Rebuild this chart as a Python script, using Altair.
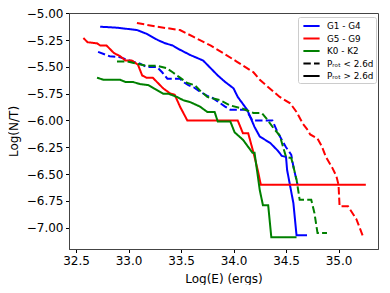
import altair as alt
import pandas as pd

# ---- data ----
g14_fast_x = [32.71, 32.82, 32.92, 33.01, 33.11, 33.17, 33.27, 33.32, 33.37, 33.49, 33.52, 33.57, 33.62, 33.68, 33.75, 33.80, 33.92, 33.97, 34.12, 34.18, 34.37, 34.42, 34.50, 34.55, 34.57, 34.61]
g14_fast_y = [-5.36, -5.40, -5.41, -5.44, -5.47, -5.50, -5.50, -5.55, -5.61, -5.61, -5.64, -5.67, -5.69, -5.73, -5.77, -5.79, -5.87, -5.90, -5.90, -6.00, -6.00, -6.11, -6.25, -6.32, -6.43, -6.60]

g14_slow_x = [32.73, 32.89, 33.08, 33.17, 33.28, 33.35, 33.42, 33.49, 33.59, 33.71, 33.78, 33.85, 33.92, 34.00, 34.04, 34.13, 34.20, 34.25, 34.35, 34.42, 34.46, 34.50, 34.51, 34.57, 34.60, 34.70]
g14_slow_y = [-5.125, -5.134, -5.156, -5.19, -5.25, -5.28, -5.30, -5.34, -5.39, -5.44, -5.51, -5.58, -5.64, -5.70, -5.78, -5.90, -6.06, -6.15, -6.21, -6.28, -6.33, -6.34, -6.46, -6.77, -7.07, -7.07]

g59_fast_x = [33.08, 33.27, 33.49, 33.62, 33.68, 33.78, 33.90, 34.03, 34.19, 34.25, 34.32, 34.44, 34.54, 34.60, 34.66, 34.70, 34.73, 34.80, 34.84, 34.88, 34.94, 34.98, 35.00, 35.01, 35.09, 35.17, 35.24]
g59_fast_y = [-5.09, -5.125, -5.156, -5.22, -5.25, -5.30, -5.37, -5.45, -5.55, -5.62, -5.68, -5.78, -5.84, -5.92, -6.03, -6.08, -6.13, -6.17, -6.24, -6.34, -6.44, -6.52, -6.60, -6.80, -6.80, -6.92, -7.10]

g59_slow_x = [32.57, 32.61, 32.70, 32.73, 32.79, 32.86, 32.92, 32.97, 33.03, 33.09, 33.13, 33.17, 33.23, 33.33, 33.40, 33.44, 33.49, 33.56, 34.04, 34.09, 34.14, 34.19, 34.23, 34.26, 35.26]
g59_slow_y = [-5.23, -5.27, -5.28, -5.30, -5.30, -5.37, -5.40, -5.44, -5.44, -5.48, -5.58, -5.60, -5.60, -5.70, -5.75, -5.76, -5.87, -6.00, -6.00, -6.12, -6.12, -6.30, -6.46, -6.60, -6.60]

k02_fast_x = [32.89, 32.99, 33.08, 33.17, 33.27, 33.36, 33.42, 33.49, 33.56, 33.63, 33.68, 33.75, 33.87, 33.97, 34.09, 34.19, 34.27, 34.32, 34.38, 34.44, 34.50, 34.55, 34.60, 34.63, 34.74, 34.77, 34.80, 34.89]
k02_fast_y = [-5.45, -5.45, -5.47, -5.49, -5.49, -5.51, -5.55, -5.60, -5.65, -5.67, -5.72, -5.78, -5.81, -5.86, -5.89, -5.93, -5.93, -5.99, -6.07, -6.14, -6.34, -6.35, -6.55, -6.74, -6.74, -6.86, -7.05, -7.05]

k02_slow_x = [32.70, 32.76, 32.92, 32.97, 33.04, 33.11, 33.19, 33.24, 33.33, 33.38, 33.46, 33.52, 33.59, 33.68, 33.75, 33.82, 33.85, 33.97, 34.01, 34.09, 34.18, 34.20, 34.25, 34.28, 34.33, 34.36, 34.60]
k02_slow_y = [-5.60, -5.62, -5.62, -5.64, -5.64, -5.66, -5.67, -5.70, -5.75, -5.75, -5.78, -5.81, -5.83, -5.87, -5.92, -5.92, -6.01, -6.01, -6.11, -6.18, -6.30, -6.30, -6.65, -6.79, -6.79, -7.09, -7.09]

groups = ["G1 - G4", "G5 - G9", "K0 - K2"]
group_colors = ["#0000ff", "#ff0000", "#008000"]
periods = ["fast", "slow"]
fast_label = "P\u1d63\u2092\u209c < 2.6d"
slow_label = "P\u1d63\u2092\u209c > 2.6d"

x_ticks = [32.5, 33.0, 33.5, 34.0, 34.5, 35.0]
y_ticks = [-5.0, -5.25, -5.5, -5.75, -6.0, -6.25, -6.5, -6.75, -7.0]

series = [
    ("G1 - G4", "fast", g14_fast_x, g14_fast_y),
    ("G1 - G4", "slow", g14_slow_x, g14_slow_y),
    ("G5 - G9", "fast", g59_fast_x, g59_fast_y),
    ("G5 - G9", "slow", g59_slow_x, g59_slow_y),
    ("K0 - K2", "fast", k02_fast_x, k02_fast_y),
    ("K0 - K2", "slow", k02_slow_x, k02_slow_y),
]
rows = []
for g, p, xs, ys in series:
    for i, (xv, yv) in enumerate(zip(xs, ys)):
        rows.append({"x": xv, "y": yv, "group": g, "period": p, "i": i})
df = pd.DataFrame(rows)

leg_domain = groups + [fast_label, slow_label]
leg_df = pd.DataFrame({"leg": leg_domain, "x": [33.0] * 5, "y": [-6.5] * 5})

DASH = [7.4, 3.2]
SOLID = [1, 0]
FONT = "DejaVu Sans"

xscale = alt.Scale(domain=[32.433, 35.376], nice=False, zero=False)
yscale = alt.Scale(domain=[-7.199, -4.997], nice=False, zero=False)

xaxis = alt.Axis(values=x_ticks, format=".1f", title="Log(E) (ergs)", grid=False,
                 titlePadding=7, labelOverlap=False)
yaxis = alt.Axis(values=y_ticks, format=".2f", title="Log(N/T)", grid=False,
                 titlePadding=6, labelOverlap=False)

lines = alt.Chart(df).mark_line(strokeWidth=2, strokeJoin="miter").encode(
    x=alt.X("x:Q", scale=xscale, axis=xaxis),
    y=alt.Y("y:Q", scale=yscale, axis=yaxis),
    color=alt.Color("group:N", scale=alt.Scale(domain=groups, range=group_colors), legend=None),
    strokeDash=alt.StrokeDash("period:N", scale=alt.Scale(domain=periods, range=[DASH, SOLID]), legend=None),
    order=alt.Order("i:Q"),
)

leg = alt.Legend(title=None, orient="none", legendX=229, legendY=4)
legend_layer = alt.Chart(leg_df).mark_line(strokeWidth=2).encode(
    x=alt.X("x:Q", scale=xscale, axis=xaxis),
    y=alt.Y("y:Q", scale=yscale, axis=yaxis),
    color=alt.Color("leg:N", scale=alt.Scale(domain=leg_domain,
                    range=group_colors + ["#000000", "#000000"]), legend=leg),
    strokeDash=alt.StrokeDash("leg:N", scale=alt.Scale(domain=leg_domain,
                    range=[SOLID, SOLID, SOLID, DASH, SOLID]), legend=leg),
)

chart = alt.layer(lines, legend_layer).resolve_scale(
    color="independent", strokeDash="independent"
).properties(
    width=309, height=236,
    autosize=alt.AutoSizeParams(type="none"),
    padding={"left": 61, "top": 5, "right": 4, "bottom": 36},
).configure_view(
    stroke="#444", strokeWidth=1
).configure_axis(
    labelFont=FONT, titleFont=FONT, labelFontSize=12, titleFontSize=12,
    labelColor="#000", titleColor="#000", titleFontWeight="normal",
    domainColor="#444", tickColor="#000", tickSize=3.5, labelPadding=2.5,
).configure_legend(
    labelFont=FONT, labelFontSize=8.8, labelColor="#000",
    symbolType="M-0.6,0H2.1", symbolSize=144, symbolStrokeWidth=2,
    padding=2, rowPadding=0.5, labelOffset=13,
    fillColor="#ffffff", strokeColor="#cccccc", cornerRadius=2,
)

chart.save("out.html", embed_options={"renderer": "svg", "actions": False})
